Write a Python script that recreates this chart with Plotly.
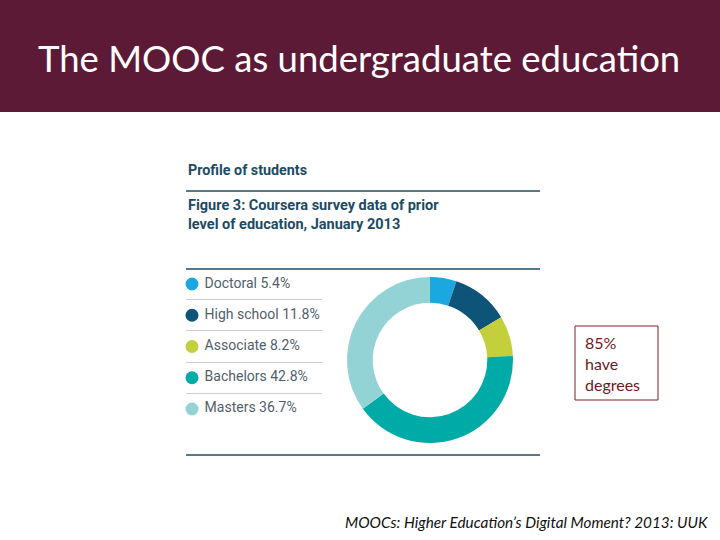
import plotly.graph_objects as go

# data
levels = ["Doctoral", "High school", "Associate", "Bachelors", "Masters"]
shares = [5.4, 11.8, 8.2, 42.8, 36.7]
colours = ["#1ba8e0", "#0e5479", "#c3cf3b", "#00aaa6", "#93d3d5"]
legend_rows = list(range(len(levels)))

W, H = 720, 540


def px(x):
    return x / W


def py(y):
    return 1 - y / H


fig = go.Figure()

# the donut
fig.add_trace(go.Pie(
    labels=levels,
    values=shares,
    sort=False,
    direction="clockwise",
    rotation=0,
    hole=0.69,
    textinfo="none",
    marker=dict(colors=colours, line=dict(width=0)),
    domain=dict(x=[px(347), px(513)], y=[py(443), py(277)]),
    showlegend=False,
))

# hand made legend: dots plus labels on a small side axis
fig.add_trace(go.Scatter(
    x=[0] * len(levels),
    y=legend_rows,
    mode="markers+text",
    marker=dict(size=13, color=colours),
    text=[f" {l} {v}%" for l, v in zip(levels, shares)],
    textposition="middle right",
    textfont=dict(family="Roboto", size=14, color="#52606a"),
    cliponaxis=False,
    showlegend=False,
    hoverinfo="skip",
    xaxis="x",
    yaxis="y",
))

fig.update_layout(
    width=W,
    height=H,
    margin=dict(l=0, r=0, t=0, b=0),
    paper_bgcolor="white",
    plot_bgcolor="rgba(0,0,0,0)",
    xaxis=dict(domain=[px(186), px(322)], range=[-6, 130], visible=False, fixedrange=True),
    yaxis=dict(
        domain=[py(424.6), py(268.4)],
        range=[4.5, -0.5],
        tickvals=[0.5, 1.5, 2.5, 3.5],
        showticklabels=False,
        showgrid=True,
        gridcolor="#c9ced2",
        gridwidth=1,
        zeroline=False,
        showline=False,
        ticks="",
        fixedrange=True,
    ),
)

navy = "#1d4b63"
shapes = [
    # maroon title band
    dict(type="rect", xref="paper", yref="paper", x0=0, x1=1, y0=py(112), y1=1,
         fillcolor="#5c1a37", line=dict(width=0), layer="below"),
    # callout box
    dict(type="rect", xref="paper", yref="paper", x0=px(575), x1=px(658), y0=py(400), y1=py(326),
         line=dict(color="#7a2222", width=1), fillcolor="rgba(0,0,0,0)"),
]
for yy in [191, 269, 455]:
    shapes.append(dict(type="line", xref="paper", yref="paper", x0=px(186), x1=px(540),
                       y0=py(yy), y1=py(yy), line=dict(color=navy, width=1.4)))

annotations = [
    dict(text="The MOOC as undergraduate education", x=px(359), y=py(58),
         font=dict(family="Lato", size=36.5, color="white")),
    dict(text="<b>Profile of students</b>", x=px(186), y=py(170), xanchor="left",
         font=dict(family="Roboto", size=14.3, color=navy)),
    dict(text="<b>Figure 3: Coursera survey data of prior<br>level of education, January 2013</b>",
         x=px(186), y=py(215), xanchor="left", align="left",
         font=dict(family="Roboto", size=14.5, color=navy)),
    dict(text="85%<br>have<br>degrees", x=px(583), y=py(363), xanchor="left", align="left",
         font=dict(family="Lato", size=16, color="#6b1b1b")),
    dict(text="<i>MOOCs: Higher Education’s Digital Moment? 2013: UUK</i>", x=px(710), y=py(522),
         xanchor="right", font=dict(family="Lato", size=15.3, color="#111111")),
]
for a in annotations:
    a.setdefault("xanchor", "center")
    a.update(xref="paper", yref="paper", showarrow=False, yanchor="middle")

fig.update_layout(shapes=shapes, annotations=annotations)

# drop the page's default body margin so the slide fills the window
fig.write_html("out.html", config={"displayModeBar": False},
               post_script="document.body.style.margin='0';")
